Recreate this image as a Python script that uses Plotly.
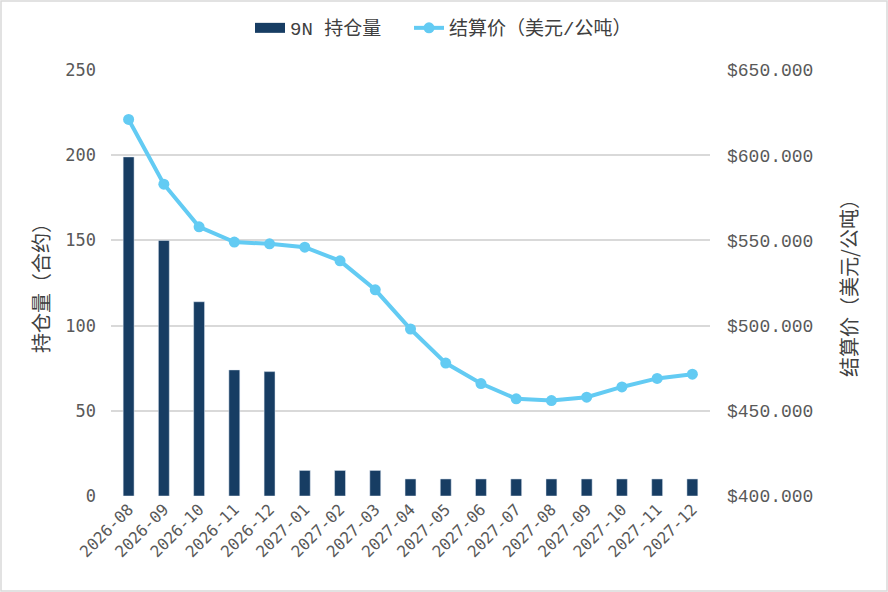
import plotly.graph_objects as go

months = ["2026-08", "2026-09", "2026-10", "2026-11", "2026-12",
          "2027-01", "2027-02", "2027-03", "2027-04", "2027-05",
          "2027-06", "2027-07", "2027-08", "2027-09", "2027-10",
          "2027-11", "2027-12"]
open_interest = [199, 150, 114, 74, 73, 15, 15, 15, 10, 10, 10, 10, 10, 10, 10, 10, 10]
settle_price = [621, 583, 558, 549, 548, 546, 538, 521, 498, 478,
                466, 457, 456, 458, 464, 469, 471.5]

W, H = 888, 592
L, R, T, B = 111, 178, 70, 96

CJK = "Noto Sans CJK SC"
GREY = "#595959"
GRID = "#d9d9d9"
BAR_C = "#173d63"
LINE_C = "#63cbf3"

fig = go.Figure()

# legend entry for the bars: a thick line looks like the wide swatch
# (two no-break spaces after the name widen the gap to the next entry)
fig.add_trace(go.Scatter(
    x=[None], y=[None], mode="lines",
    name="9N 持仓量\u00a0\u00a0",
    line=dict(color=BAR_C, width=10),
    hoverinfo="skip",
))

fig.add_trace(go.Bar(
    x=months, y=open_interest,
    name="9N 持仓量",
    marker=dict(color=BAR_C),
    width=0.31,
    showlegend=False,
))

fig.add_trace(go.Scatter(
    x=months, y=settle_price,
    name="结算价（美元/公吨）",
    yaxis="y2",
    mode="lines+markers",
    line=dict(color=LINE_C, width=4),
    marker=dict(size=11, color=LINE_C),
))

# light frame round the whole chart
pw, ph = W - L - R, H - T - B
fig.add_shape(type="rect", xref="paper", yref="paper",
              x0=-(L - 1) / pw, x1=1 + (R - 1) / pw,
              y0=-(B - 1) / ph, y1=1 + (T - 1) / ph,
              line=dict(color="#d9d9d9", width=1.5), layer="below")

fig.update_layout(
    width=W, height=H,
    margin=dict(l=L, r=R, t=T, b=B, autoexpand=False),
    plot_bgcolor="white", paper_bgcolor="white",
    font=dict(family=CJK, color=GREY, size=15),
    showlegend=True,
    legend=dict(orientation="h", x=(250 - L) / pw, xanchor="left",
                y=1 + (T - 28) / ph, yanchor="middle",
                font=dict(family="Liberation Mono, " + CJK, size=19, color="#404040"),
                traceorder="normal"),
    xaxis=dict(
        type="category", automargin=False,
        categoryorder="array", categoryarray=months,
        range=[-0.5, len(months) - 0.5],
        tickangle=-45, showgrid=False, showline=False, zeroline=False,
        tickfont=dict(family="DejaVu Sans Mono", size=16, color=GREY),
    ),
    yaxis=dict(
        range=[0, 250], dtick=50, automargin=False,
        gridcolor=GRID, gridwidth=1.5, zeroline=False, showline=False,
        tickfont=dict(family="DejaVu Sans Mono", size=17, color=GREY),
        ticklabelstandoff=14,
        title=dict(text="持仓量（合约）", font=dict(family=CJK, size=20, color="#404040"), standoff=10),
    ),
    yaxis2=dict(
        overlaying="y", side="right", automargin=False,
        range=[400, 650], dtick=50,
        showgrid=False, zeroline=False, showline=False,
        tickprefix="$", tickformat=".3f",
        tickfont=dict(family="Liberation Mono", size=18, color=GREY),
        ticklabelstandoff=16,
        title=dict(text="结算价（美元/公吨）", font=dict(family=CJK, size=20, color="#404040"), standoff=30),
    ),
)

fig.write_html("out.html", config={"displayModeBar": False},
               post_script="document.body.style.margin='0';")
